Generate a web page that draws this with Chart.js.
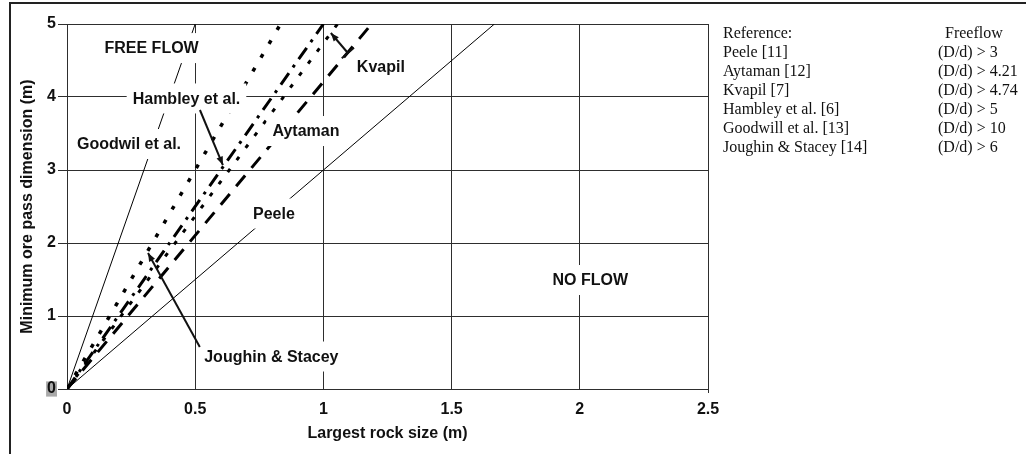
<!DOCTYPE html>
<html>
<head>
<meta charset="utf-8">
<script src="https://cdn.jsdelivr.net/npm/chart.js@4/dist/chart.umd.min.js"></script>
<style>
html,body{margin:0;padding:0;background:#fff;}
#wrap{position:relative;width:1026px;height:454px;}
</style>
</head>
<body>
<div id="wrap"><canvas id="c" width="1026" height="454"></canvas></div>
<script>
// ---- data ----
const xTickValues = [0, 0.5, 1, 1.5, 2, 2.5];
const yTickValues = [0, 1, 2, 3, 4, 5];

const peeleX    = [0, 1.667], peeleY    = [0, 5];
const aytamanX  = [0, 1.188], aytamanY  = [0, 5];
const kvapilX   = [0, 1.055], kvapilY   = [0, 5];
const hambleyX  = [0, 1.0],   hambleyY  = [0, 5];
const goodwillX = [0, 0.5],   goodwillY = [0, 5];
const joughinX  = [0, 0.833], joughinY  = [0, 5];

const labelTexts = ['FREE FLOW', 'Hambley et al.', 'Goodwil et al.', 'Aytaman', 'Peele', 'Kvapil', 'Joughin & Stacey', 'NO FLOW'];
const labelX     = [0.33, 0.466, 0.242, 0.932, 0.807, 1.224, 0.797, 2.041];
const labelY     = [4.67, 3.98, 3.356, 3.534, 2.404, 4.418, 0.445, 1.493];

const arrowFromX = [0.5185, 0.518, 1.0955];
const arrowFromY = [3.822, 0.575, 4.603];
const arrowToX   = [0.608, 0.316, 1.029];
const arrowToY   = [3.068, 1.863, 4.877];
const arrowBar   = [false, false, true];

const refHeader  = ['Reference:', 'Freeflow'];
const refNames   = ['Peele [11]', 'Aytaman [12]', 'Kvapil [7]', 'Hambley et al. [6]', 'Goodwill et al. [13]', 'Joughin & Stacey [14]'];
const refRatios  = ['(D/d) > 3', '(D/d) > 4.21', '(D/d) > 4.74', '(D/d) > 5', '(D/d) > 10', '(D/d) > 6'];

// ---- build ----
const pts = (xs, ys) => xs.map((x, i) => ({x: x, y: ys[i]}));
const SANS = '"Liberation Sans", Arial, Helvetica, sans-serif';
const SERIF = '"Liberation Serif", "Times New Roman", Times, serif';
const FS = 16;

function drawArrow(ctx, x1, y1, x2, y2, bar) {
  ctx.beginPath(); ctx.moveTo(x1, y1); ctx.lineTo(x2, y2); ctx.stroke();
  const a = Math.atan2(y2 - y1, x2 - x1), L = 9, s = 0.38;
  ctx.beginPath();
  ctx.moveTo(x2, y2);
  ctx.lineTo(x2 - L * Math.cos(a - s), y2 - L * Math.sin(a - s));
  ctx.lineTo(x2 - L * Math.cos(a + s), y2 - L * Math.sin(a + s));
  ctx.closePath(); ctx.fill();
  if (bar) {
    const b = 8, p = a + Math.PI / 2;
    ctx.beginPath();
    ctx.moveTo(x1 - b * Math.cos(p), y1 - b * Math.sin(p));
    ctx.lineTo(x1 + b * Math.cos(p), y1 + b * Math.sin(p));
    ctx.stroke();
  }
}

const overlay = {
  id: 'overlay',
  afterDatasetsDraw(chart) {
    const {ctx, scales: {x, y}} = chart;
    ctx.save();
    ctx.font = 'bold ' + FS + 'px ' + SANS;
    ctx.textAlign = 'center';
    ctx.textBaseline = 'middle';
    labelTexts.forEach((t, i) => {
      const px = x.getPixelForValue(labelX[i]);
      const py = y.getPixelForValue(labelY[i]);
      const w = ctx.measureText(t).width + 12, h = 30;
      ctx.fillStyle = '#fff';
      ctx.fillRect(px - w / 2, py - h / 2, w, h);
      ctx.fillStyle = '#111';
      ctx.fillText(t, px, py + 1);
    });
    ctx.strokeStyle = '#111';
    ctx.fillStyle = '#111';
    ctx.lineWidth = 2;
    arrowFromX.forEach((fx, i) => {
      drawArrow(ctx,
        x.getPixelForValue(fx), y.getPixelForValue(arrowFromY[i]),
        x.getPixelForValue(arrowToX[i]), y.getPixelForValue(arrowToY[i]),
        arrowBar[i]);
    });
    ctx.restore();
  },
  afterDraw(chart) {
    const ctx = chart.ctx;
    ctx.save();
    // reference table
    ctx.font = '16px ' + SERIF;
    ctx.fillStyle = '#111';
    ctx.textAlign = 'left';
    ctx.textBaseline = 'middle';
    const top = 34, step = 19;
    ctx.fillText(refHeader[0], 723, top);
    ctx.fillText(refHeader[1], 945, top);
    refNames.forEach((n, i) => {
      ctx.fillText(n, 723, top + step * (i + 1));
      ctx.fillText(refRatios[i], 938, top + step * (i + 1));
    });
    // outer frame
    ctx.strokeStyle = '#222';
    ctx.lineWidth = 2;
    ctx.beginPath();
    ctx.moveTo(10, 454); ctx.lineTo(10, 3); ctx.lineTo(1026, 3);
    ctx.stroke();
    ctx.restore();
  }
};

const ds = (label, xs, ys, width, dash) => ({
  label: label,
  data: pts(xs, ys),
  showLine: true,
  borderColor: '#000',
  backgroundColor: '#000',
  borderWidth: width,
  borderDash: dash,
  borderCapStyle: 'butt',
  pointRadius: 0,
  fill: false
});

new Chart(document.getElementById('c'), {
  type: 'scatter',
  data: {
    datasets: [
      ds('Peele', peeleX, peeleY, 1, []),
      ds('Goodwill et al.', goodwillX, goodwillY, 1, []),
      ds('Joughin & Stacey', joughinX, joughinY, 3.5, [4, 12]),
      ds('Hambley et al.', hambleyX, hambleyY, 3, [14, 7, 3, 7]),
      ds('Kvapil', kvapilX, kvapilY, 3, [4, 11]),
      ds('Aytaman', aytamanX, aytamanY, 3, [14, 10])
    ]
  },
  options: {
    responsive: false,
    animation: false,
    devicePixelRatio: 1,
    layout: {padding: {left: 17, right: 318, top: 24, bottom: 10}},
    plugins: {legend: {display: false}, tooltip: {enabled: false}},
    scales: {
      x: {
        type: 'linear', min: 0, max: 2.5,
        afterBuildTicks: s => { s.ticks = xTickValues.map(v => ({value: v})); },
        afterFit: s => { s.height = 55; },
        ticks: {
          font: {family: SANS, size: FS, weight: 'bold'}, color: '#111', padding: 7,
          maxRotation: 0, callback: v => String(v)
        },
        grid: {
          color: '#2e2e2e', lineWidth: 1, drawTicks: true, tickLength: 4,
          tickColor: c => (c.tick && c.tick.value === 2.5) ? '#2e2e2e' : 'rgba(0,0,0,0)'
        },
        border: {display: true, color: '#2e2e2e', width: 1},
        title: {display: true, text: 'Largest rock size (m)', font: {family: SANS, size: FS, weight: 'bold'}, color: '#111', padding: {top: 0, bottom: 1}}
      },
      y: {
        type: 'linear', min: 0, max: 5,
        afterBuildTicks: s => { s.ticks = yTickValues.map(v => ({value: v})); },
        afterFit: s => { s.width = 50; },
        ticks: {
          font: {family: SANS, size: FS, weight: 'bold'}, color: '#111', padding: 2,
          callback: v => String(v),
          showLabelBackdrop: c => c.tick && c.tick.value === 0,
          backdropColor: '#a9a9a9',
          backdropPadding: {left: 1, right: 1, top: -2, bottom: -2}
        },
        grid: {color: '#2e2e2e', lineWidth: 1, drawTicks: true, tickLength: 9, tickColor: '#2e2e2e'},
        border: {display: true, color: '#2e2e2e', width: 1},
        title: {display: true, text: 'Minimum ore pass dimension (m)', font: {family: SANS, size: FS, weight: 'bold'}, color: '#111', padding: {top: 1, bottom: 0}}
      }
    }
  },
  plugins: [overlay]
});
</script>
</body>
</html>
